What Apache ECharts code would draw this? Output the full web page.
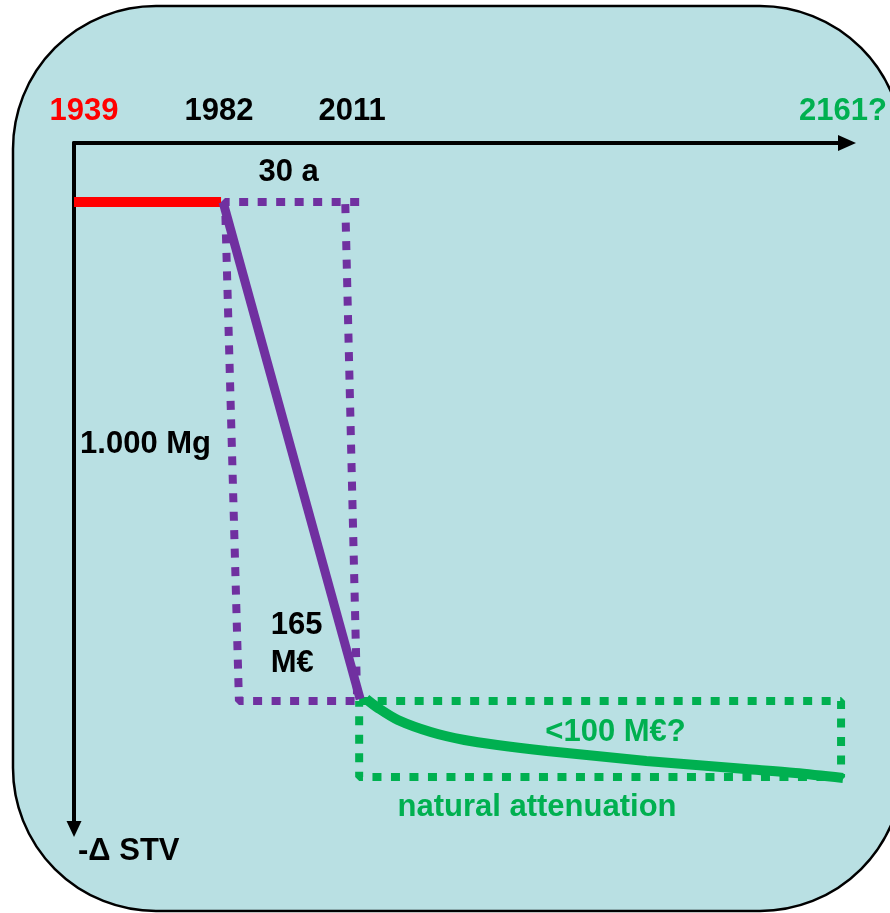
<!DOCTYPE html>
<html>
<head>
<meta charset="utf-8">
<title>STV</title>
<script src="https://cdn.jsdelivr.net/npm/echarts@6/dist/echarts.min.js"></script>
<style>
html,body{margin:0;padding:0;background:#fff;}
#chart{width:890px;height:913px;}
</style>
</head>
<body>
<div id="chart"></div>
<script>
// schematic units: x = distance along the time arrow, y = distance down the -ΔSTV arrow
var yearLabels = ['1939', '1982', '2011', '2161?'];
var yearPos = [10, 146, 280, 774];
var yearColors = ['#ff0000', '#000000', '#000000', '#00b050'];

var before = [[0, 59], [148, 59]];
var remediation = [[150, 59], [288, 556]];
var remediationBox = [[287, 59], [152, 59], [166, 558], [285, 558], [273, 59]];
var attenuationBox = [[287, 558], [772, 558], [772, 634], [287, 634], [287, 558]];
var attenuation = [[294, 556], [306, 565], [326, 577], [359, 589], [393, 597], [426, 602], [476, 608],
    [526, 613], [576, 618], [626, 622], [676, 626], [726, 630], [774, 635]];

var noteText = ['30 a', '1.000 Mg', '165\nM€', '<100 M€?', 'natural attenuation'];
var noteX = [216, 72, 198, 545, 466];
var noteY = [29, 301, 501, 589, 664];
var noteColors = ['#000000', '#000000', '#000000', '#00b050', '#00b050'];

var font = 'Liberation Sans, Arial, sans-serif';
var purple = '#7030a0';
var green = '#00b050';

var notes = noteText.map(function (t, i) {
    return {
        value: [noteX[i], noteY[i]],
        name: t,
        label: {color: noteColors[i], align: i === 2 ? 'left' : 'center'}
    };
});

var myChart = echarts.init(document.getElementById('chart'));
var option = {
    animation: false,
    backgroundColor: '#ffffff',
    graphic: [{
        type: 'rect',
        z: -10,
        silent: true,
        shape: {x: 13, y: 6, width: 890, height: 905, r: 143},
        style: {fill: '#b9e0e3', stroke: '#000', lineWidth: 2.5}
    }],
    grid: {left: 74, top: 143, width: 778, height: 686},
    xAxis: {
        type: 'value',
        position: 'top',
        min: 0,
        max: 778,
        splitLine: {show: false},
        axisTick: {show: false},
        axisLine: {
            onZero: false,
            symbol: ['none', 'triangle'],
            symbolSize: [16, 18],
            lineStyle: {color: '#000', width: 4}
        },
        axisLabel: {
            customValues: yearPos,
            margin: 16,
            fontFamily: font,
            fontSize: 31,
            fontWeight: 'bold',
            formatter: function (v) {
                return yearLabels[yearPos.indexOf(v)];
            },
            color: function (v) {
                return yearColors[yearPos.indexOf(Number(v))];
            }
        }
    },
    yAxis: {
        type: 'value',
        inverse: true,
        min: 0,
        max: 686,
        name: '-Δ STV',
        nameLocation: 'end',
        nameGap: 22,
        nameTextStyle: {
            fontFamily: font, fontSize: 31, fontWeight: 'bold', color: '#000',
            align: 'left', verticalAlign: 'middle', padding: [0, 0, 0, 4]
        },
        splitLine: {show: false},
        axisTick: {show: false},
        axisLabel: {show: false},
        axisLine: {
            onZero: false,
            symbol: ['triangle', 'none'],
            symbolSize: [15, 16],
            lineStyle: {color: '#000', width: 4}
        }
    },
    series: [
        {
            type: 'line', data: remediationBox, showSymbol: false, silent: true,
            lineStyle: {color: purple, width: 8, type: [9, 9.5]}
        },
        {
            type: 'line', data: attenuationBox, showSymbol: false, silent: true,
            lineStyle: {color: green, width: 8, type: [9, 9.5]}
        },
        {
            type: 'line', data: before, showSymbol: false, silent: true,
            lineStyle: {color: '#ff0000', width: 10, cap: 'butt'}
        },
        {
            type: 'line', data: remediation, showSymbol: false, silent: true,
            lineStyle: {color: purple, width: 9}
        },
        {
            type: 'line', data: attenuation, showSymbol: false, smooth: 0.3, silent: true,
            lineStyle: {color: green, width: 10}
        },
        {
            type: 'scatter', data: notes, symbolSize: 0, silent: true,
            itemStyle: {opacity: 1},
            label: {
                show: true,
                position: 'inside',
                formatter: '{b}',
                fontFamily: font,
                fontSize: 31,
                fontWeight: 'bold',
                lineHeight: 38,
                textBorderWidth: 0,
                textBorderColor: 'transparent'
            }
        }
    ]
};
myChart.setOption(option);
</script>
</body>
</html>
